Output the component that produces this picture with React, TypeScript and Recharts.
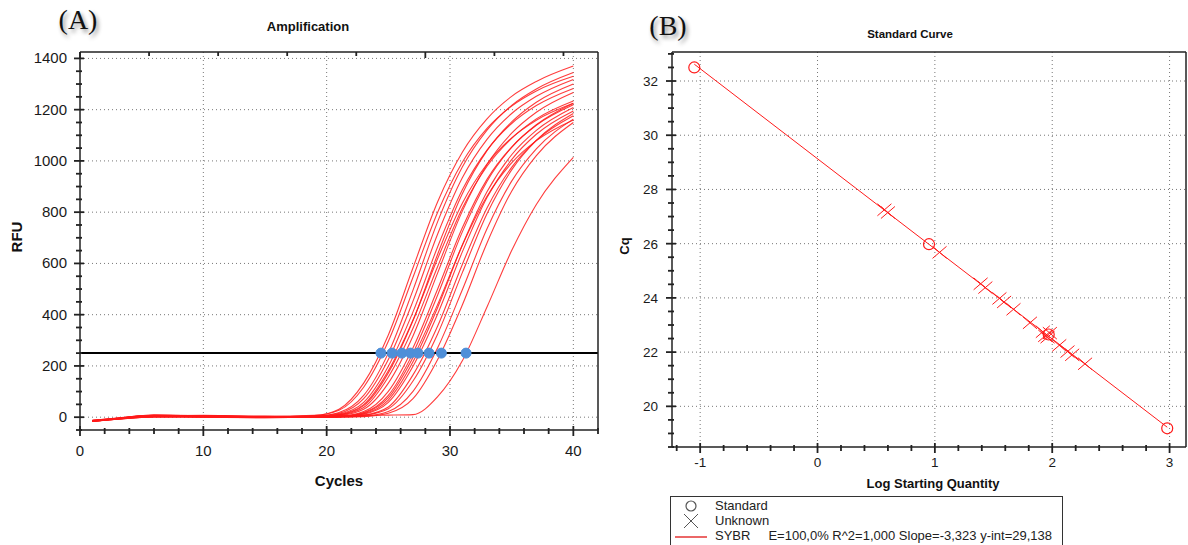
import React from "react"
import {
  ComposedChart,
  ScatterChart,
  Line,
  Scatter,
  XAxis,
  YAxis,
  CartesianGrid,
  ReferenceLine,
  ReferenceDot,
} from "recharts"

const FONT = "'Liberation Sans', Arial, Helvetica, sans-serif"
const SERIF = "'Liberation Serif', 'Times New Roman', serif"
const RED = "#ff1a1a"
const FRAME = "#222"

// ---------- (A) Amplification ----------
const cycles = [1, 3, 6, 10, 15, 19, 21, 23, 25, 27, 29, 31, 33, 35, 37, 40]
// RFU of each well at the cycles above
const wells = [
  [-15, -6, 4, 3, 1, 6, 31, 133, 321, 583, 841, 1034, 1164, 1252, 1310, 1370],
  [-12, -3, 8, 6, 3, 7, 27, 117, 296, 546, 800, 995, 1127, 1214, 1273, 1330],
  [-17, -8, 1, 0, -2, 3, 18, 85, 250, 496, 763, 976, 1120, 1217, 1281, 1345],
  [-14, -5, 7, 5, 2, 4, 15, 72, 225, 453, 715, 934, 1084, 1185, 1252, 1318],
  [-13, -4, 6, 2, -1, 2, 12, 58, 199, 411, 665, 887, 1042, 1146, 1216, 1283],
  [-16, -7, 3, 4, 0, 2, 9, 45, 173, 377, 636, 872, 1040, 1152, 1229, 1300],
  [-14, -6, 5, 7, 3, 1, 8, 38, 157, 347, 588, 815, 979, 1088, 1164, 1234],
  [-17, -7, 2, 1, -2, 1, 6, 31, 133, 317, 563, 804, 986, 1108, 1190, 1267],
  [-15, -5, 7, 4, 2, 3, 4, 22, 101, 271, 500, 739, 928, 1054, 1139, 1219],
  [-13, -6, 4, 2, 0, 0, 3, 18, 85, 250, 477, 723, 920, 1053, 1141, 1225],
  [-16, -8, 2, 3, 1, -1, 2, 14, 67, 216, 428, 672, 880, 1024, 1119, 1208],
  [-12, -4, 6, 6, 2, 1, 2, 12, 58, 199, 403, 645, 857, 1005, 1104, 1195],
  [-15, -5, 3, 0, -1, 0, 1, 8, 40, 165, 356, 596, 816, 975, 1080, 1176],
  [-17, -6, 5, 5, 3, 2, 1, 7, 33, 141, 325, 564, 794, 965, 1080, 1185],
  [-14, -7, 1, 2, 1, -1, 1, 4, 22, 101, 271, 497, 735, 921, 1047, 1163],
  [-15, -6, 4, 3, 0, 0, 1, 2, 15, 72, 225, 438, 680, 882, 1021, 1150],
  [-16, -5, 6, 4, 2, 3, 5, 7, 8, 10, 80, 220, 430, 650, 830, 1014],
  [-13, -4, 8, 5, -1, 2, 10, 49, 181, 379, 619, 835, 988, 1090, 1159, 1225],
  [-16, -8, 2, 1, 1, 0, 2, 16, 76, 233, 440, 671, 862, 992, 1079, 1160],
]
const threshold = 250
const ctCycles = [24.4, 25.3, 26.1, 26.8, 27.4, 28.3, 29.3, 31.3]
const cycleTicks = Array.from({ length: 22 }, (_, i) => i * 2)
const rfuTicks = Array.from({ length: 30 }, (_, i) => -50 + i * 50)
const rfuGrid = [0, 200, 400, 600, 800, 1000, 1200, 1400]

const ampRows = cycles.map((c, i) => {
  const row: Record<string, number> = { cycle: c }
  wells.forEach((w, j) => (row[`w${j}`] = w[i]))
  return row
})

// ---------- (B) Standard curve ----------
const stdLogQty = [-1.05, 0.95, 1.97, 2.98]
const stdCq = [32.5, 25.98, 22.65, 19.19]
const unkLogQty = [0.57, 0.6, 1.04, 1.39, 1.43, 1.55, 1.59, 1.67, 1.81, 1.92, 1.94, 1.96, 1.98, 2.06, 2.13, 2.17, 2.28]
const unkCq = [27.25, 27.15, 25.68, 24.52, 24.38, 23.98, 23.85, 23.58, 23.08, 22.75, 22.6, 22.55, 22.7, 22.25, 22.02, 21.9, 21.57]
const fitLogQty = [-1.05, 2.98]
const fitCq = [32.62, 19.23]
const qtyTicks = Array.from({ length: 22 }, (_, i) => Math.round((-1.2 + i * 0.2) * 10) / 10)
const cqTicks = Array.from({ length: 30 }, (_, i) => 18.5 + i * 0.5)

const standards = stdLogQty.map((x, i) => ({ x, y: stdCq[i] }))
const unknowns = unkLogQty.map((x, i) => ({ x, y: unkCq[i] }))
const fit = fitLogQty.map((x, i) => ({ x, y: fitCq[i] }))

type Side = "left" | "right" | "top" | "bottom"

// ticks drawn by hand so majors are longer and cross the frame like the original software
const axisTick =
  (side: Side, majorEvery: number, showLabel: boolean, fontSize: number, gap: number) =>
  (props: any) => {
    const { x, y, payload } = props
    const v = payload.value as number
    const r = v / majorEvery
    const major = Math.abs(r - Math.round(r)) < 1e-6
    const out = major ? 6 : 4
    const inn = major ? 4 : 2
    let seg
    if (side === "left") seg = <line x1={x - out} x2={x + inn} y1={y} y2={y} />
    else if (side === "right") seg = <line x1={x - out} x2={x} y1={y} y2={y} />
    else if (side === "top") seg = <line x1={x} x2={x} y1={y} y2={y + out} />
    else seg = <line x1={x} x2={x} y1={y - inn} y2={y + out} />
    const label = Math.round(v * 10) / 10
    return (
      <g>
        <g stroke={FRAME} strokeWidth={1.8}>
          {seg}
        </g>
        {showLabel && major && side === "left" && (
          <text x={x - gap} y={y + 5} textAnchor="end" fontSize={fontSize} fill="#1a1a1a" stroke="none" fontFamily={FONT}>
            {label}
          </text>
        )}
        {showLabel && major && side === "bottom" && (
          <text x={x} y={y + gap} textAnchor="middle" fontSize={fontSize} fill="#1a1a1a" stroke="none" fontFamily={FONT}>
            {label}
          </text>
        )}
      </g>
    )
  }

const Txt = ({ x, y, size, bold, rotate, family, shadow, children }: any) => (
  <div
    style={{
      position: "absolute",
      left: x,
      top: y,
      transform: `translate(-50%, -50%)${rotate ? ` rotate(${rotate}deg)` : ""}`,
      fontSize: size,
      fontWeight: bold ? 700 : 400,
      fontFamily: family ?? FONT,
      whiteSpace: "pre",
      lineHeight: 1,
      color: "#111",
      textShadow: shadow ? "2px 3px 4px rgba(0,0,0,0.45)" : undefined,
    }}
  >
    {children}
  </div>
)

const Cross = (p: any) => (
  <path
    d={`M${p.cx - 7},${p.cy - 6}L${p.cx + 7},${p.cy + 6}M${p.cx - 7},${p.cy + 6}L${p.cx + 7},${p.cy - 6}`}
    stroke={RED}
    strokeWidth={1}
    fill="none"
  />
)
const Ring = (p: any) => <circle cx={p.cx} cy={p.cy} r={5.5} stroke={RED} strokeWidth={1.2} fill="none" />

const frameLine = { stroke: FRAME, strokeWidth: 1.5 }

export default function App() {
  return (
    <div style={{ position: "absolute", left: 0, top: 0, width: 1188, height: 545, overflow: "hidden", background: "#fff" }}>
      {/* (A) */}
      <div style={{ position: "absolute", left: 0, top: 0 }}>
        <ComposedChart width={600} height={500} data={ampRows} margin={{ top: 51, right: 1, bottom: 30, left: 0 }}>
          <CartesianGrid
            verticalValues={[10, 20, 30, 40]}
            horizontalValues={rfuGrid}
            stroke="#777"
            strokeDasharray="1 3"
          />
          <XAxis
            dataKey="cycle"
            type="number"
            domain={[0, 42]}
            ticks={cycleTicks}
            interval={0}
            height={40}
            tickSize={0}
            tickMargin={0}
            axisLine={frameLine}
            tick={axisTick("bottom", 10, true, 15, 26)}
          />
          <XAxis
            xAxisId="top"
            orientation="top"
            type="number"
            domain={[0, 42]}
            ticks={cycleTicks}
            interval={0}
            height={1}
            tickSize={0}
            tickMargin={0}
            axisLine={frameLine}
            tick={axisTick("top", 10, false, 15, 0)}
          />
          <YAxis
            type="number"
            domain={[-50, 1425]}
            ticks={rfuTicks}
            interval={0}
            width={80}
            tickSize={0}
            tickMargin={0}
            axisLine={frameLine}
            tick={axisTick("left", 200, true, 15, 13)}
          />
          <YAxis
            yAxisId="right"
            orientation="right"
            type="number"
            domain={[-50, 1425]}
            ticks={rfuTicks}
            interval={0}
            width={1}
            tickSize={0}
            tickMargin={0}
            axisLine={frameLine}
            tick={axisTick("right", 200, false, 15, 0)}
          />
          {wells.map((_, j) => (
            <Line
              key={j}
              dataKey={`w${j}`}
              type="monotone"
              stroke={RED}
              strokeWidth={1.1}
              strokeOpacity={0.85}
              dot={false}
              activeDot={false}
              isAnimationActive={false}
            />
          ))}
          <ReferenceLine y={threshold} stroke="#000" strokeWidth={2} />
          {ctCycles.map((c) => (
            <ReferenceDot key={c} x={c} y={threshold} r={5} fill="#4f8fd8" stroke="#4f8fd8" />
          ))}
        </ComposedChart>
      </div>
      <Txt x={78} y={20} size={28} family={SERIF} shadow>
        (A)
      </Txt>
      <Txt x={308} y={26} size={13} bold>
        Amplification
      </Txt>
      <Txt x={16} y={237} size={15} bold rotate={-90}>
        RFU
      </Txt>
      <Txt x={339} y={480} size={15} bold>
        Cycles
      </Txt>

      {/* (B) */}
      <div style={{ position: "absolute", left: 600, top: 0 }}>
        <ScatterChart width={588} height={545} margin={{ top: 51, right: 1, bottom: 68, left: 0 }}>
          <CartesianGrid
            verticalValues={[-1, 0, 1, 2, 3]}
            horizontalValues={[20, 22, 24, 26, 28, 30, 32]}
            stroke="#777"
            strokeDasharray="1 3"
          />
          <XAxis
            dataKey="x"
            type="number"
            domain={[-1.24, 3.14]}
            ticks={qtyTicks}
            interval={0}
            height={30}
            tickSize={0}
            tickMargin={0}
            axisLine={frameLine}
            tick={axisTick("bottom", 1, true, 13.5, 20)}
          />
          <XAxis
            xAxisId="top"
            orientation="top"
            type="number"
            domain={[-1.24, 3.14]}
            ticks={qtyTicks}
            interval={0}
            height={1}
            tickSize={0}
            tickMargin={0}
            axisLine={frameLine}
            tick={axisTick("top", 1, false, 13, 0)}
          />
          <YAxis
            dataKey="y"
            type="number"
            domain={[18.5, 33.07]}
            ticks={cqTicks}
            interval={0}
            width={72}
            tickSize={0}
            tickMargin={0}
            axisLine={frameLine}
            tick={axisTick("left", 2, true, 13.5, 14)}
          />
          <YAxis
            yAxisId="right"
            orientation="right"
            type="number"
            domain={[18.5, 33.07]}
            ticks={cqTicks}
            interval={0}
            width={1}
            tickSize={0}
            tickMargin={0}
            axisLine={frameLine}
            tick={axisTick("right", 2, false, 13, 0)}
          />
          <Scatter
            data={fit}
            line={{ stroke: RED, strokeWidth: 1 }}
            shape={() => <g />}
            isAnimationActive={false}
          />
          <Scatter data={unknowns} shape={Cross} isAnimationActive={false} />
          <Scatter data={standards} shape={Ring} isAnimationActive={false} />
        </ScatterChart>
      </div>
      <Txt x={668} y={26} size={28} family={SERIF} shadow>
        (B)
      </Txt>
      <Txt x={910} y={35} size={11.5} bold>
        Standard Curve
      </Txt>
      <Txt x={624} y={246} size={13} bold rotate={-90}>
        Cq
      </Txt>
      <Txt x={933} y={483} size={13} bold>
        Log Starting Quantity
      </Txt>

      {/* legend box */}
      <div
        style={{
          position: "absolute",
          left: 670,
          top: 496,
          width: 393,
          height: 60,
          border: "1px solid #333",
          boxSizing: "border-box",
        }}
      />
      <svg style={{ position: "absolute", left: 665, top: 498 }} width={50} height={47}>
        <circle cx={26} cy={8} r={5} stroke="#555" strokeWidth={1.2} fill="none" />
        <path d="M19,16L33,30M19,30L33,16" stroke="#555" strokeWidth={1} />
        <line x1={10} x2={42} y1={39} y2={39} stroke="#d00" strokeWidth={1.2} />
      </svg>
      <div style={{ position: "absolute", left: 715, top: 498, fontFamily: FONT, fontSize: 13, lineHeight: "15px", color: "#222", whiteSpace: "pre" }}>
        <div>Standard</div>
        <div>Unknown</div>
        <div>
          SYBR<span style={{ display: "inline-block", width: 18 }} />E=100,0% R^2=1,000 Slope=-3,323 y-int=29,138
        </div>
      </div>
    </div>
  )
}
